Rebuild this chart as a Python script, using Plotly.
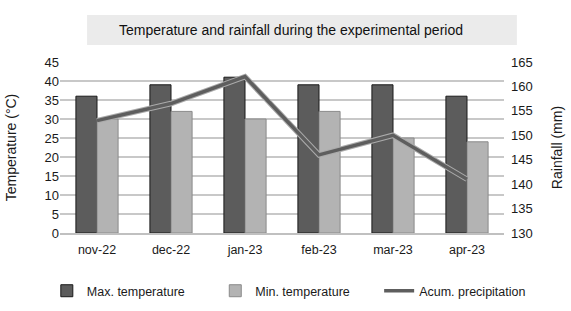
import plotly.graph_objects as go

months = ["nov-22", "dec-22", "jan-23", "feb-23", "mar-23", "apr-23"]
max_temp = [36, 39, 41, 39, 39, 36]
min_temp = [30, 32, 30, 32, 25, 24]
precip = [153, 156.5, 162, 146, 150, 141]
temp_ticks = list(range(0, 50, 5))
rain_ticks = list(range(130, 170, 5))

FONT = "Liberation Sans, Arial"

fig = go.Figure()
fig.add_trace(go.Bar(x=months, y=max_temp, name="Max. temperature", legend="legend",
                     marker=dict(color="#5c5c5c", line=dict(color="#1a1a1a", width=1))))
fig.add_trace(go.Bar(x=months, y=min_temp, name="Min. temperature", legend="legend2",
                     marker=dict(color="#b3b3b3", line=dict(color="#8a8a8a", width=1))))
fig.add_trace(go.Scatter(x=months, y=precip, yaxis="y2", mode="lines", showlegend=False,
                         line=dict(color="#ababab", width=5.5), hoverinfo="skip"))
fig.add_trace(go.Scatter(x=months, y=precip, yaxis="y2", mode="lines", name="Acum. precipitation",
                         legend="legend3", line=dict(color="#5e5e5e", width=3.5)))

leg_common = dict(orientation="h", xref="container", xanchor="left",
                  yref="container", y=0.064, yanchor="middle",
                  font=dict(size=12.5), itemwidth=30, bgcolor="rgba(0,0,0,0)")

fig.update_layout(
    width=571, height=311,
    margin=dict(l=60, r=67, t=62, b=78, autoexpand=False),
    paper_bgcolor="white", plot_bgcolor="white",
    font=dict(family=FONT, size=12.5, color="#1a1a1a"),
    barmode="group", bargap=0.43, bargroupgap=0,
    xaxis=dict(showgrid=False, showline=True, linecolor="#c0c0c0", linewidth=1.5,
               ticks="", tickfont=dict(size=12.5), automargin=False, ticklabelstandoff=4),
    yaxis=dict(range=[0, 45], tickvals=temp_ticks, showgrid=True, gridcolor="#c8c8c8",
               gridwidth=1.5, zeroline=False, ticks="", tickfont=dict(size=13), automargin=False,
               title=dict(text="Temperature (°C)", font=dict(size=14), standoff=24)),
    yaxis2=dict(range=[130, 165], tickvals=rain_ticks, overlaying="y", side="right",
                showgrid=False, zeroline=False, ticks="", tickfont=dict(size=13), automargin=False,
                ticklabelstandoff=6,
                title=dict(text="Rainfall (mm)", font=dict(size=14), standoff=20)),
    legend=dict(x=0.082, **leg_common),
    legend2=dict(x=0.377, **leg_common),
    legend3=dict(x=0.664, **leg_common),
    shapes=[dict(type="rect", xref="paper", yref="paper", x0=0.061, x1=1.029,
                 y0=1.099, y1=1.275, fillcolor="#ebebeb", line=dict(width=0), layer="below")],
    annotations=[dict(text="Temperature and rainfall during the experimental period",
                      xref="paper", yref="paper", x=0.52, y=1.187, showarrow=False,
                      font=dict(size=14, color="#111"), xanchor="center", yanchor="middle")],
)

fig.write_html("out.html", post_script="document.body.style.margin='0';",
               config={"displayModeBar": False})
